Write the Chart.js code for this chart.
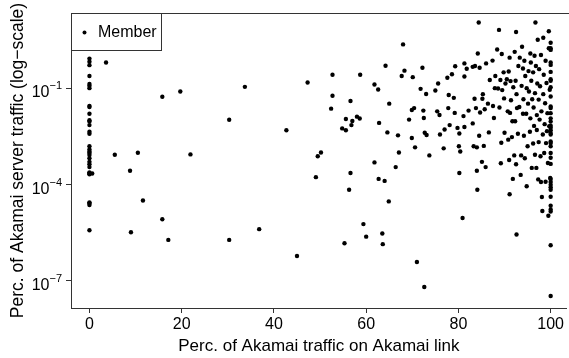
<!DOCTYPE html>
<html>
<head>
<meta charset="utf-8">
<script src="https://cdn.jsdelivr.net/npm/chart.js@4/dist/chart.umd.min.js"></script>
<style>
  html, body { margin: 0; padding: 0; background: #ffffff; }
  #wrap { width: 569px; height: 358px; position: relative; }
</style>
</head>
<body>
<div id="wrap"><canvas id="c" width="569" height="358"></canvas></div>
<script>
// Perc. of Akamai traffic on Akamai link (x)
const linkShare = [
  0,0,0,0,0,0,0,0,0,0,0,0,0,0,0,0,0,0,0,0,0,0,0,0,0,0,0,0,0,0,0,0.6,
  3.6,5.5,8.8,9.0,10.5,11.6,15.8,15.8,17.1,19.7,21.9,30.3,30.3,33.7,36.8,42.7,45.0,47.3,
  49.1,49.5,50.2,52.4,52.7,52.7,54.8,55.3,55.6,55.6,56.3,56.6,56.6,56.8,57.0,58.0,58.6,58.7,
  59.4,60.0,61.8,61.8,62.6,62.7,62.8,63.5,63.6,64.0,64.2,64.6,64.9,65.0,66.4,66.9,67.1,67.7,
  68.0,68.3,69.3,69.9,69.9,70.1,70.4,70.6,71.0,71.8,72.2,72.4,72.5,72.6,72.7,73.0,73.1,73.7,
  75.0,75.4,75.6,75.9,76.0,76.8,77.0,77.6,77.8,77.9,78.1,78.6,79.0,79.2,79.3,79.8,80.1,80.2,
  80.2,80.4,80.9,81.1,81.3,81.3,81.3,81.8,82.2,83.1,83.1,83.3,83.5,83.6,83.8,84.0,84.0,84.1,
  84.2,84.4,84.5,84.6,84.7,85.1,85.2,85.3,85.5,85.7,85.9,86.0,86.4,86.6,86.8,87.4,87.5,87.7,
  87.9,88.0,88.4,88.6,88.8,88.9,89.1,89.2,89.3,89.4,89.5,89.8,89.9,90.0,90.2,90.5,90.7,90.8,
  90.9,91.0,91.1,91.1,91.2,91.3,91.4,91.6,91.7,91.8,91.9,92.1,92.2,92.3,92.4,92.5,92.5,92.6,
  92.6,92.7,92.9,93.0,93.2,93.3,93.5,93.6,93.7,93.8,94.0,94.0,94.1,94.2,94.3,94.4,94.5,94.7,
  94.8,94.8,95.0,95.1,95.2,95.3,95.5,95.6,95.6,95.7,95.8,95.9,96.0,96.2,96.2,96.3,96.4,96.5,
  96.6,96.6,96.7,96.8,96.9,97.0,97.0,97.1,97.2,97.3,97.4,97.4,97.5,97.6,97.7,97.8,97.9,97.9,
  98.0,98.1,98.2,98.3,98.4,98.4,98.5,98.6,98.7,98.8,98.9,98.9,99.0,99.1,99.2,99.3,99.4,99.5,
  99.6,99.6,99.7,99.8,99.9,
  100,100,100,100,100,100,100,100,100,100,100,100,100,100,100,100,100,100,100,100,100,100,100,
  100,100,100,100,100,100,100,100,100,100,100,100,100,100
];
// Perc. of Akamai server traffic (y, log scale)
const serverShare = [
  0.83,0.66,0.52,0.24,0.135,0.118,0.10,0.028,0.026,0.016,0.010,0.0091,0.0071,0.0044,0.0038,0.00155,
  0.00123,0.00105,0.00096,0.00083,0.00066,0.00051,0.00043,0.00035,0.00024,0.00022,0.00021,2.8e-5,2.6e-5,2.3e-5,3.8e-6,0.00022,
  0.63,8.5e-4,2.7e-4,3.3e-6,9.8e-4,3.2e-5,0.054,8.3e-6,1.9e-6,0.079,8.7e-4,0.0104,1.9e-6,0.11,4.1e-6,0.0049,6.0e-7,0.15,
  1.7e-4,7.6e-4,1.0e-3,0.023,0.26,0.058,0.0056,1.5e-6,0.0049,0.011,6.9e-5,0.040,2.3e-4,0.0071,0.0095,0.013,0.0114,0.26,
  5.9e-6,2.4e-6,4.9e-4,0.13,0.091,1.5e-4,0.0083,3.0e-6,1.4e-6,1.3e-4,0.50,0.0042,3.0e-5,0.033,3.5e-4,0.0034,1.0e-3,0.24,
  2.3,0.35,0.0105,0.021,0.0028,0.22,0.024,0.00144,3.9e-7,0.095,0.43,0.020,0.0118,6.5e-8,0.0041,0.066,0.0035,8.1e-4,
  0.085,0.019,0.14,0.0146,0.0036,0.00134,0.0052,0.21,0.024,0.061,0.0071,0.27,0.050,0.017,0.48,0.0058,0.00155,0.0039,
  2.3e-4,0.00107,9.1e-6,0.0135,0.23,0.0062,0.59,0.40,0.020,0.0080,0.46,0.00155,0.047,0.49,0.024,0.00144,2.7e-4,6.9e-5,
  1.2,11,0.0033,0.43,0.0175,5.1e-4,0.047,0.065,0.0016,0.022,3.5e-4,0.59,0.033,0.0042,0.18,0.72,0.028,0.0118,
  0.10,0.24,1.6,0.098,6.5,0.025,0.18,4.6e-4,0.0020,1.15,0.087,0.31,0.048,0.0041,0.14,0.19,0.019,0.0025,
  0.33,5.8e-4,5.0e-5,0.89,0.017,0.166,0.042,0.0030,0.0093,1.5e-4,0.107,8.1e-4,1.35,0.0093,0.17,5.6,4.3e-4,2.8e-6,
  0.065,0.024,0.0038,0.49,0.026,0.89,2.0e-4,8.1e-4,0.118,1.95,0.41,0.016,0.045,0.0033,0.71,6.6e-4,0.24,0.016,
  0.10,8.9e-5,0.00155,0.033,0.34,0.079,0.0044,1.2,0.0115,0.63,0.17,3.3e-4,0.045,0.0019,0.31,0.025,0.0067,1.02,
  8.5e-4,0.070,11,0.49,3.3e-4,0.0145,0.0050,0.14,3.2,1.45e-4,0.0021,0.044,0.39,0.0105,0.115,7.6e-4,1.2e-4,1.07,
  0.019,4.1e-5,1.5e-5,0.0036,0.065,3.7,0.26,9.6e-4,0.0076,0.034,1.23e-4,0.71,0.00195,0.144,0.0046,0.0167,4.7e-4,1.07e-5,
  5.9,1.74,0.0065,0.089,1.6e-4,
  2.6,1.74,1.55,0.63,0.53,0.32,0.19,0.17,0.107,0.055,0.027,0.024,0.0167,0.0115,0.0091,0.0068,0.0059,0.0049,0.0040,0.0036,0.0022,0.00195,0.00155,
  0.00096,0.00068,0.00044,1.5e-4,1.2e-4,9.8e-5,8.3e-5,6.9e-5,4.2e-5,2.2e-5,1.67e-5,1.45e-5,1.3e-6,3.4e-8
];
const xTickValues = [0, 20, 40, 60, 80, 100];
const yTickValues = [1e-7, 1e-4, 1e-1];
const yTickBases = ['10', '10', '10'];
const yTickExponents = ['\u22127', '\u22124', '\u22121'];
const seriesName = 'Member';

const points = linkShare.map((x, i) => ({ x: x, y: serverShare[i] }));

const FONT = '"Liberation Sans", Arial, sans-serif';
const INK = '#000000';
const AXIS = '#333333';

const frame = {
  id: 'frame',
  afterDraw(chart) {
    const ctx = chart.ctx, a = chart.chartArea;
    ctx.save();
    ctx.strokeStyle = AXIS;
    ctx.lineWidth = 1;
    ctx.beginPath();
    ctx.moveTo(a.left, a.top + 0.5);
    ctx.lineTo(chart.width + 2, a.top + 0.5);
    ctx.stroke();
    // y tick labels: base with raised exponent
    const ys = chart.scales.y;
    ctx.fillStyle = INK;
    ctx.textBaseline = 'alphabetic';
    yTickValues.forEach((v, i) => {
      const py = ys.getPixelForValue(v);
      ctx.font = '11px ' + FONT;
      ctx.textAlign = 'right';
      const expW = ctx.measureText(yTickExponents[i]).width;
      const right = a.left - 9;
      ctx.fillText(yTickExponents[i], right, py + 1);
      ctx.font = '16px ' + FONT;
      ctx.fillText(yTickBases[i], right - expW, py + 9);
    });
    // legend box
    const lx = a.left, ly = a.top, lw = 90, lh = 37;
    ctx.fillStyle = '#ffffff';
    ctx.fillRect(lx, ly, lw, lh);
    ctx.strokeRect(lx + 0.5, ly + 0.5, lw, lh);
    ctx.fillStyle = INK;
    ctx.beginPath();
    ctx.arc(lx + 13.5, ly + 19.5, 2, 0, Math.PI * 2);
    ctx.fill();
    ctx.font = '16px ' + FONT;
    ctx.textBaseline = 'middle';
    ctx.textAlign = 'left';
    ctx.fillText(seriesName, lx + 27, ly + 20);
    ctx.restore();
  }
};

new Chart(document.getElementById('c'), {
  type: 'scatter',
  data: {
    datasets: [{
      label: seriesName,
      data: points,
      backgroundColor: INK,
      borderColor: INK,
      pointRadius: 2.2,
      pointHoverRadius: 2.2,
      borderWidth: 0
    }]
  },
  options: {
    responsive: false,
    animation: false,
    devicePixelRatio: 1,
    layout: { padding: { left: 0, right: 0, top: 12, bottom: 0 } },
    plugins: { legend: { display: false }, tooltip: { enabled: false } },
    scales: {
      x: {
        type: 'linear',
        min: -4,
        max: 103.5,
        afterBuildTicks: s => { s.ticks = xTickValues.map(v => ({ value: v })); },
        afterFit: s => { s.height = 50; },
        ticks: { color: INK, font: { family: FONT, size: 16 }, padding: 2, maxRotation: 0, autoSkip: false },
        grid: { display: true, drawOnChartArea: false, drawTicks: true, tickLength: 5, color: AXIS },
        border: { display: true, color: AXIS, width: 1 },
        title: { display: true, text: 'Perc. of Akamai traffic on Akamai link', color: INK,
                 font: { family: FONT, size: 17 }, padding: { top: 0, bottom: 1 } }
      },
      y: {
        type: 'logarithmic',
        min: 1.445e-8,
        max: 21.8,
        afterBuildTicks: s => { s.ticks = yTickValues.map(v => ({ value: v })); },
        afterFit: s => { s.width = 71; },
        ticks: { color: INK, font: { family: FONT, size: 15 }, padding: 4, autoSkip: false,
                 callback: () => '' },
        grid: { display: true, drawOnChartArea: false, drawTicks: true, tickLength: 5, color: AXIS },
        border: { display: true, color: AXIS, width: 1 },
        title: { display: true, text: 'Perc. of Akamai server traffic (log\u2212scale)', color: INK,
                 font: { family: FONT, size: 17.5 }, padding: { top: 8, bottom: 0 } }
      }
    }
  },
  plugins: [frame]
});
</script>
</body>
</html>
